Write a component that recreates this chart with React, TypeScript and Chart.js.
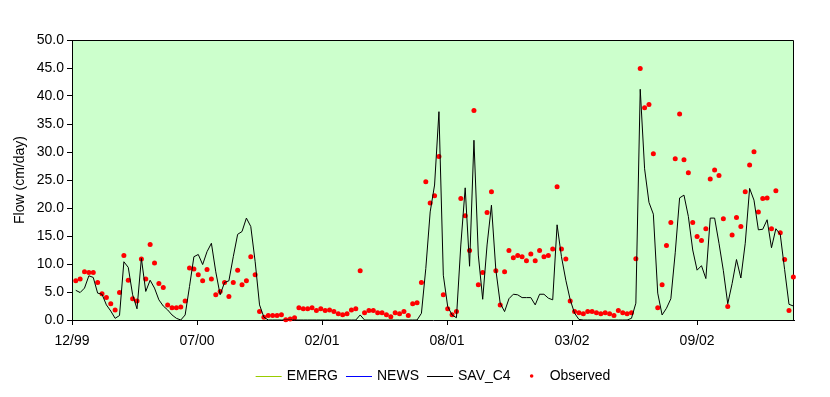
import { useEffect, useRef } from 'react';
import { Chart, registerables } from 'chart.js';

Chart.register(...registerables);

// ---- Axis / sampling definitions ----
const xTickLabels = ['12/99', '07/00', '02/01', '08/01', '03/02', '09/02'];
const TICK_STEP_DAYS = 200;
const FIRST_SAMPLE_DAY = 6;
const SAMPLE_STEP_DAYS = 7;
const AXIS_END_DAY = 1155;
const Y_MIN = 0;
const Y_MAX = 50;
const Y_STEP = 5;

// ---- Series (cm/day, one value per weekly sample) ----
const observed = [
  7.0, 7.3, 8.6, 8.5, 8.5, 6.7, 4.7, 4.0, 2.9, 1.8,
  4.9, 11.5, 7.1, 3.8, 3.4, 10.9, 7.3, 13.5, 10.2, 6.5,
  5.8, 2.7, 2.2, 2.2, 2.3, 3.4, 9.3, 9.1, 8.1, 7.0,
  9.0, 7.3, 4.5, 5.1, 6.7, 4.2, 6.7, 8.9, 6.3, 7.0,
  11.3, 8.1, 1.5, 0.5, 0.8, 0.8, 0.8, 0.95, 0.05, 0.2,
  0.4, 2.2, 2.0, 2.0, 2.2, 1.7, 2.0, 1.7, 1.8, 1.5,
  1.1, 0.95, 1.1, 1.8, 2.0, 8.8, 1.3, 1.7, 1.7, 1.3,
  1.3, 0.95, 0.6, 1.3, 1.1, 1.5, 0.8, 2.9, 3.1, 6.7,
  24.7, 20.9, 22.2, 29.2, 4.5, 2.0, 0.95, 1.5, 21.7, 18.6,
  12.4, 37.4, 6.3, 8.5, 19.2, 22.9, 8.8, 2.7, 8.6, 12.4,
  11.1, 11.5, 11.3, 10.6, 11.8, 10.6, 12.4, 11.3, 11.5, 12.7,
  23.8, 12.7, 10.9, 3.4, 1.5, 1.3, 1.1, 1.5, 1.5, 1.3,
  1.1, 1.3, 1.1, 0.8, 1.7, 1.3, 1.1, 1.3, 10.95, 44.9,
  37.9, 38.5, 29.7, 2.2, 6.3, 13.3, 17.4, 28.8, 36.8, 28.6,
  26.3, 17.4, 14.9, 14.2, 16.3, 25.2, 26.8, 25.8, 18.1, 2.4,
  15.2, 18.3, 16.7, 22.9, 27.7, 30.05, 19.3, 21.7, 21.8, 16.3,
  23.1, 15.6, 10.8, 1.7, 7.7,
];

const savC4 = [
  5.3, 4.9, 5.7, 7.9, 7.6, 4.8, 4.6, 2.7, 1.6, 0.3,
  0.8, 10.4, 9.4, 4.5, 2.0, 11.0, 5.1, 7.1, 5.7, 3.6,
  2.5, 1.8, 0.9, 0.3, 0, 0.9, 6.0, 11.3, 11.7, 9.9,
  12.2, 13.7, 8.6, 4.5, 6.7, 7.0, 11.3, 15.3, 15.8, 18.2,
  16.7, 10.4, 2.7, 0.5, 0, 0, 0, 0, 0, 0,
  0, 0, 0, 0, 0, 0, 0, 0, 0, 0,
  0, 0, 0, 0, 0, 0.9, 0, 0, 0, 0,
  0, 0, 0, 0, 0, 0, 0, 0, 0, 1.2,
  9.2, 19.3, 24.1, 37.2, 8.0, 2.4, 0.9, 0.4, 13.4, 23.6,
  9.6, 32.1, 11.6, 3.7, 13.4, 20.5, 9.0, 3.0, 1.5, 3.8,
  4.6, 4.5, 4.0, 4.0, 4.0, 2.7, 4.6, 4.6, 3.9, 3.6,
  17.0, 11.3, 7.1, 3.6, 1.2, 0.1, 0, 0, 0, 0,
  0, 0, 0, 0, 0, 0, 0, 0.3, 3.0, 41.2,
  27.0, 21.0, 18.9, 4.8, 0.9, 2.1, 3.8, 12.0, 21.8, 22.3,
  18.5, 12.5, 8.9, 9.7, 7.4, 18.2, 18.2, 13.7, 8.8, 2.9,
  6.5, 10.8, 7.5, 13.7, 23.5, 21.4, 16.1, 16.2, 17.9, 12.9,
  16.3, 15.3, 9.0, 2.8, 2.5,
];

// EMERG and NEWS series are listed in the legend but draw nothing visible
const emerg: number[] = [];
const news: number[] = [];

const FONT_FAMILY = '"Liberation Sans", Arial, sans-serif';
const FONT_SIZE = 14;

const toPoints = (vals: number[]) =>
  vals.map((v, i) => ({ x: FIRST_SAMPLE_DAY + i * SAMPLE_STEP_DAYS, y: v }));

const plotDecor = {
  id: 'plotDecor',
  beforeDraw(chart: any) {
    const { ctx, chartArea: a, width, height } = chart;
    ctx.save();
    ctx.fillStyle = '#ffffff';
    ctx.fillRect(0, 0, width, height);
    ctx.fillStyle = '#CCFFCC';
    ctx.fillRect(a.left, a.top, a.right - a.left, a.bottom - a.top);
    ctx.restore();
  },
  beforeDatasetsDraw(chart: any) {
    const { ctx, chartArea: a } = chart;
    ctx.save();
    ctx.strokeStyle = '#000';
    ctx.lineWidth = 1;
    ctx.beginPath();
    const l = Math.round(a.left) + 0.5;
    const r = Math.round(a.right) - 0.5;
    const t = Math.round(a.top) + 0.5;
    const b = Math.round(a.bottom) + 0.5;
    ctx.moveTo(l, t);
    ctx.lineTo(r, t);
    ctx.lineTo(r, b);
    ctx.stroke();
    ctx.restore();
  },
  afterDraw(chart: any) {
    const { ctx, chartArea: a } = chart;
    const items = chart.data.datasets.map((d: any) => ({
      label: d.label,
      color: d.showLine === false ? d.backgroundColor : d.borderColor,
      dot: d.showLine === false,
    }));
    ctx.save();
    ctx.font = `${FONT_SIZE}px ${FONT_FAMILY}`;
    ctx.textBaseline = 'middle';
    ctx.textAlign = 'left';
    const sym = 26;
    const gapText = 5;
    const gapItem = 8;
    const widths = items.map((it: any) => ctx.measureText(it.label).width);
    let total = 0;
    widths.forEach((w: number, i: number) => {
      total += sym + gapText + w + (i < widths.length - 1 ? gapItem : 0);
    });
    let x = (a.left + a.right) / 2 - total / 2;
    const y = 376;
    items.forEach((it: any, i: number) => {
      if (it.dot) {
        ctx.fillStyle = it.color;
        ctx.beginPath();
        ctx.arc(x + sym / 2, y, 1.8, 0, Math.PI * 2);
        ctx.fill();
      } else {
        ctx.strokeStyle = it.color;
        ctx.lineWidth = 1;
        ctx.beginPath();
        ctx.moveTo(x, Math.round(y) + 0.5);
        ctx.lineTo(x + sym, Math.round(y) + 0.5);
        ctx.stroke();
      }
      ctx.fillStyle = '#000';
      ctx.fillText(it.label, x + sym + gapText, y);
      x += sym + gapText + widths[i] + gapItem;
    });
    ctx.restore();
  },
};

export default function App() {
  const canvasRef = useRef<HTMLCanvasElement | null>(null);

  useEffect(() => {
    const canvas = canvasRef.current;
    if (!canvas) return;
    const chart = new Chart(canvas, {
      type: 'line',
      data: {
        datasets: [
          {
            label: 'EMERG',
            data: toPoints(emerg),
            borderColor: '#99CC00',
            backgroundColor: '#99CC00',
            borderWidth: 1,
            pointRadius: 0,
            tension: 0,
          },
          {
            label: 'NEWS',
            data: toPoints(news),
            borderColor: '#0000FF',
            backgroundColor: '#0000FF',
            borderWidth: 1,
            pointRadius: 0,
            tension: 0,
          },
          {
            label: 'SAV_C4',
            data: toPoints(savC4),
            borderColor: '#000000',
            backgroundColor: '#000000',
            borderWidth: 1,
            pointRadius: 0,
            tension: 0,
          },
          {
            label: 'Observed',
            data: toPoints(observed),
            showLine: false,
            borderColor: '#FF0000',
            backgroundColor: '#FF0000',
            borderWidth: 0,
            pointRadius: 2.5,
            pointStyle: 'circle',
            clip: false,
          } as any,
        ],
      },
      options: {
        responsive: false,
        animation: false,
        devicePixelRatio: 1,
        layout: { padding: { left: 0, top: 40, right: 36, bottom: 0 } },
        plugins: {
          legend: { display: false },
          tooltip: { enabled: false },
        },
        scales: {
          x: {
            type: 'linear',
            min: 0,
            max: AXIS_END_DAY,
            afterFit: (s: any) => {
              s.height = 77;
            },
            afterBuildTicks: (s: any) => {
              s.ticks = xTickLabels.map((_, i) => ({ value: i * TICK_STEP_DAYS }));
            },
            ticks: {
              autoSkip: false,
              maxRotation: 0,
              minRotation: 0,
              padding: 8,
              color: '#000',
              font: { family: FONT_FAMILY, size: FONT_SIZE },
              callback: (v: any) => xTickLabels[Math.round(Number(v) / TICK_STEP_DAYS)] ?? '',
            },
            grid: {
              display: true,
              drawOnChartArea: false,
              drawTicks: true,
              tickLength: 5,
              color: '#000',
            },
            border: { display: true, color: '#000', width: 1 },
          },
          y: {
            type: 'linear',
            min: Y_MIN,
            max: Y_MAX,
            afterFit: (s: any) => {
              s.width = 72;
            },
            ticks: {
              stepSize: Y_STEP,
              padding: 3,
              color: '#000',
              font: { family: FONT_FAMILY, size: FONT_SIZE },
              callback: (v: any) => Number(v).toFixed(1),
            },
            grid: {
              display: true,
              drawOnChartArea: false,
              drawTicks: true,
              tickLength: 5,
              color: '#000',
            },
            border: { display: true, color: '#000', width: 1 },
            title: {
              display: true,
              text: 'Flow (cm/day)',
              color: '#000',
              font: { family: FONT_FAMILY, size: FONT_SIZE },
              padding: { top: 12, bottom: 0 },
            },
          },
        },
      },
      plugins: [plotDecor],
    });
    return () => chart.destroy();
  }, []);

  return (
    <div style={{ position: 'absolute', left: 0, top: 0, width: 830, height: 397, background: '#fff' }}>
      <canvas ref={canvasRef} width={830} height={397} style={{ display: 'block' }} />
    </div>
  );
}
